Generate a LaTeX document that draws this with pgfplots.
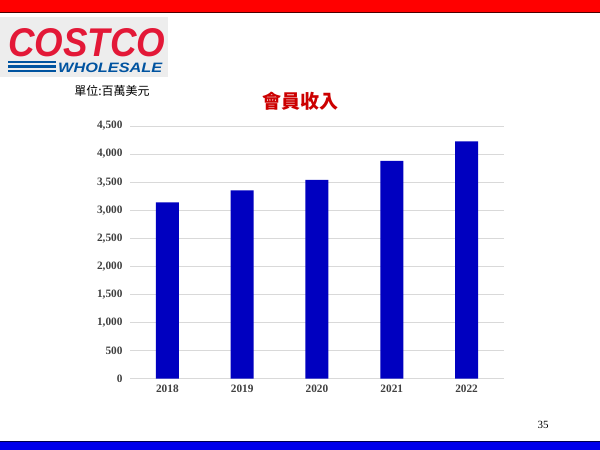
\documentclass[border=0pt]{standalone}
\usepackage{fontspec}
\setmainfont{Liberation Serif}
\setsansfont{Liberation Sans}
\newfontfamily\cjk{Noto Sans CJK TC}
\usepackage{graphicx}
\usepackage{pgfplots}
\pgfplotsset{compat=1.18}
\definecolor{barblue}{RGB}{0,0,192}
\definecolor{slidered}{RGB}{255,0,0}
\definecolor{slideblue}{RGB}{0,0,235}
\definecolor{logored}{RGB}{227,24,55}
\definecolor{logoblue}{RGB}{0,83,160}
\definecolor{titlered}{RGB}{204,0,0}
\definecolor{gridgray}{RGB}{217,217,217}
\definecolor{ticktext}{RGB}{64,64,64}

\begin{document}
\begin{tikzpicture}[x=1pt,y=1pt]
\path[use as bounding box, fill=white] (0,0) rectangle (600,450);
% slide bands
\fill[slidered, draw=black!70!red, line width=0.8pt] (-1,438) rectangle (601,451);
\fill[slideblue, draw=black!70!blue, line width=0.8pt] (-1,-1) rectangle (601,8.5);
% logo
\fill[black!7] (0,373) rectangle (168,433);
\node[inner sep=0pt, anchor=north west] at (8,422)
  {\vbox{\offinterlineskip
    \hbox to 157pt{\color{logored}\resizebox{157pt}{28pt}{\sffamily\bfseries\itshape COSTCO}}
    \kern 6pt
    \hbox to 157pt{\hfill\color{logoblue}\resizebox{104pt}{9.5pt}{\sffamily\bfseries\itshape WHOLESALE}\kern3pt}}};
\foreach \yy in {388,383.5,379} \fill[logoblue] (8,\yy-1.3) rectangle (56,\yy+1.3);
% texts
\node[inner sep=0pt, font=\cjk\fontsize{12}{12}\selectfont] at (112,359) {單位:百萬美元};
\node[inner sep=0pt, text=titlered, font=\cjk\bfseries\fontsize{19}{19}\selectfont] at (300,349) {會員收入};
\node[inner sep=0pt, font=\fontsize{11}{11}\selectfont] at (543,25) {35};

\begin{axis}[
    at={(130pt,71.3pt)}, anchor=south west,
    scale only axis,
    width=374pt, height=252.7pt,
    ybar, bar width=23pt,
    xmin=-0.5, xmax=4.5,
    ymin=0, ymax=4500,
    xtick=data,
    xticklabels={2018,2019,2020,2021,2022},
    ytick={0,500,...,4500},
    ymajorgrids,
    grid style={gridgray, line width=0.8pt},
    axis line style={draw=none},
    major tick length=0pt,
    tick label style={font=\bfseries\fontsize{11.3}{11.3}\selectfont, text=ticktext},
    yticklabel style={xshift=-4pt},
    xticklabel style={yshift=-3pt},
    /pgf/number format/.cd, 1000 sep={,}, assume math mode=true,
]
\addplot[fill=barblue, draw=none] coordinates {(0,3142) (1,3352) (2,3541) (3,3877) (4,4224)};
\end{axis}
\end{tikzpicture}
\end{document}
